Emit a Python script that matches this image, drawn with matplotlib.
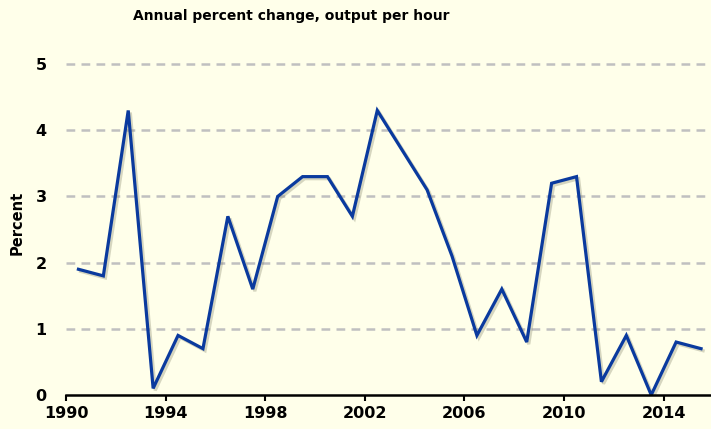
import matplotlib
matplotlib.use('Agg')
import matplotlib.pyplot as plt
import matplotlib.patheffects as pe

years = list(range(1990, 2016))
pct_change = [1.9, 1.8, 4.3, 0.1, 0.9, 0.7, 2.7, 1.6, 3.0, 3.3, 3.3, 2.7, 4.3,
              3.7, 3.1, 2.1, 0.9, 1.6, 0.8, 3.2, 3.3, 0.2, 0.9, 0.0, 0.8, 0.7]
x_ticks = [1990, 1994, 1998, 2002, 2006, 2010, 2014]
y_ticks = [0, 1, 2, 3, 4, 5]

bg = '#FFFFEA'
plt.rcParams['font.family'] = 'DejaVu Sans'
plt.rcParams['font.weight'] = 'bold'

fig = plt.figure(figsize=(7.11, 4.29), dpi=100, facecolor=bg)
ax = fig.add_axes([0.0928, 0.0793, 0.9072, 0.802])
ax.set_facecolor(bg)

# points sit in the middle of each year slot
xs = [y + 0.5 for y in years]
ax.plot(xs, pct_change, color='#0A3A9E', linewidth=2.3, solid_joinstyle='miter',
        path_effects=[pe.SimpleLineShadow(offset=(1.5, -1.5), shadow_color='#8a8a70', alpha=0.35),
                      pe.Normal()], zorder=3)

for v in y_ticks[1:]:
    ax.axhline(v, color='#C0C0C0', linewidth=1.8, linestyle=(0, (3.5, 2.5)), zorder=1)

ax.set_xlim(1990, 2015.9)
ax.set_ylim(0, 5.2)
ax.set_xticks(x_ticks)
ax.set_yticks(y_ticks)
ax.tick_params(axis='x', direction='out', length=4, width=1.5, labelsize=11.5, pad=4)
ax.tick_params(axis='y', length=0, labelsize=11.5, pad=14)
for lab in ax.get_xticklabels() + ax.get_yticklabels():
    lab.set_fontweight('bold')

for s in ['top', 'right', 'left']:
    ax.spines[s].set_visible(False)
ax.spines['bottom'].set_linewidth(1.8)
ax.spines['bottom'].set_zorder(4)

ax.set_ylabel('Percent', fontsize=10.5, fontweight='bold')
ax.yaxis.set_label_coords(-0.064, 0.5)
fig.text(291 / 711, 0.963, 'Annual percent change, output per hour',
         ha='center', va='center', fontsize=10, fontweight='bold')

plt.savefig('out.png', dpi=100, facecolor=bg)
